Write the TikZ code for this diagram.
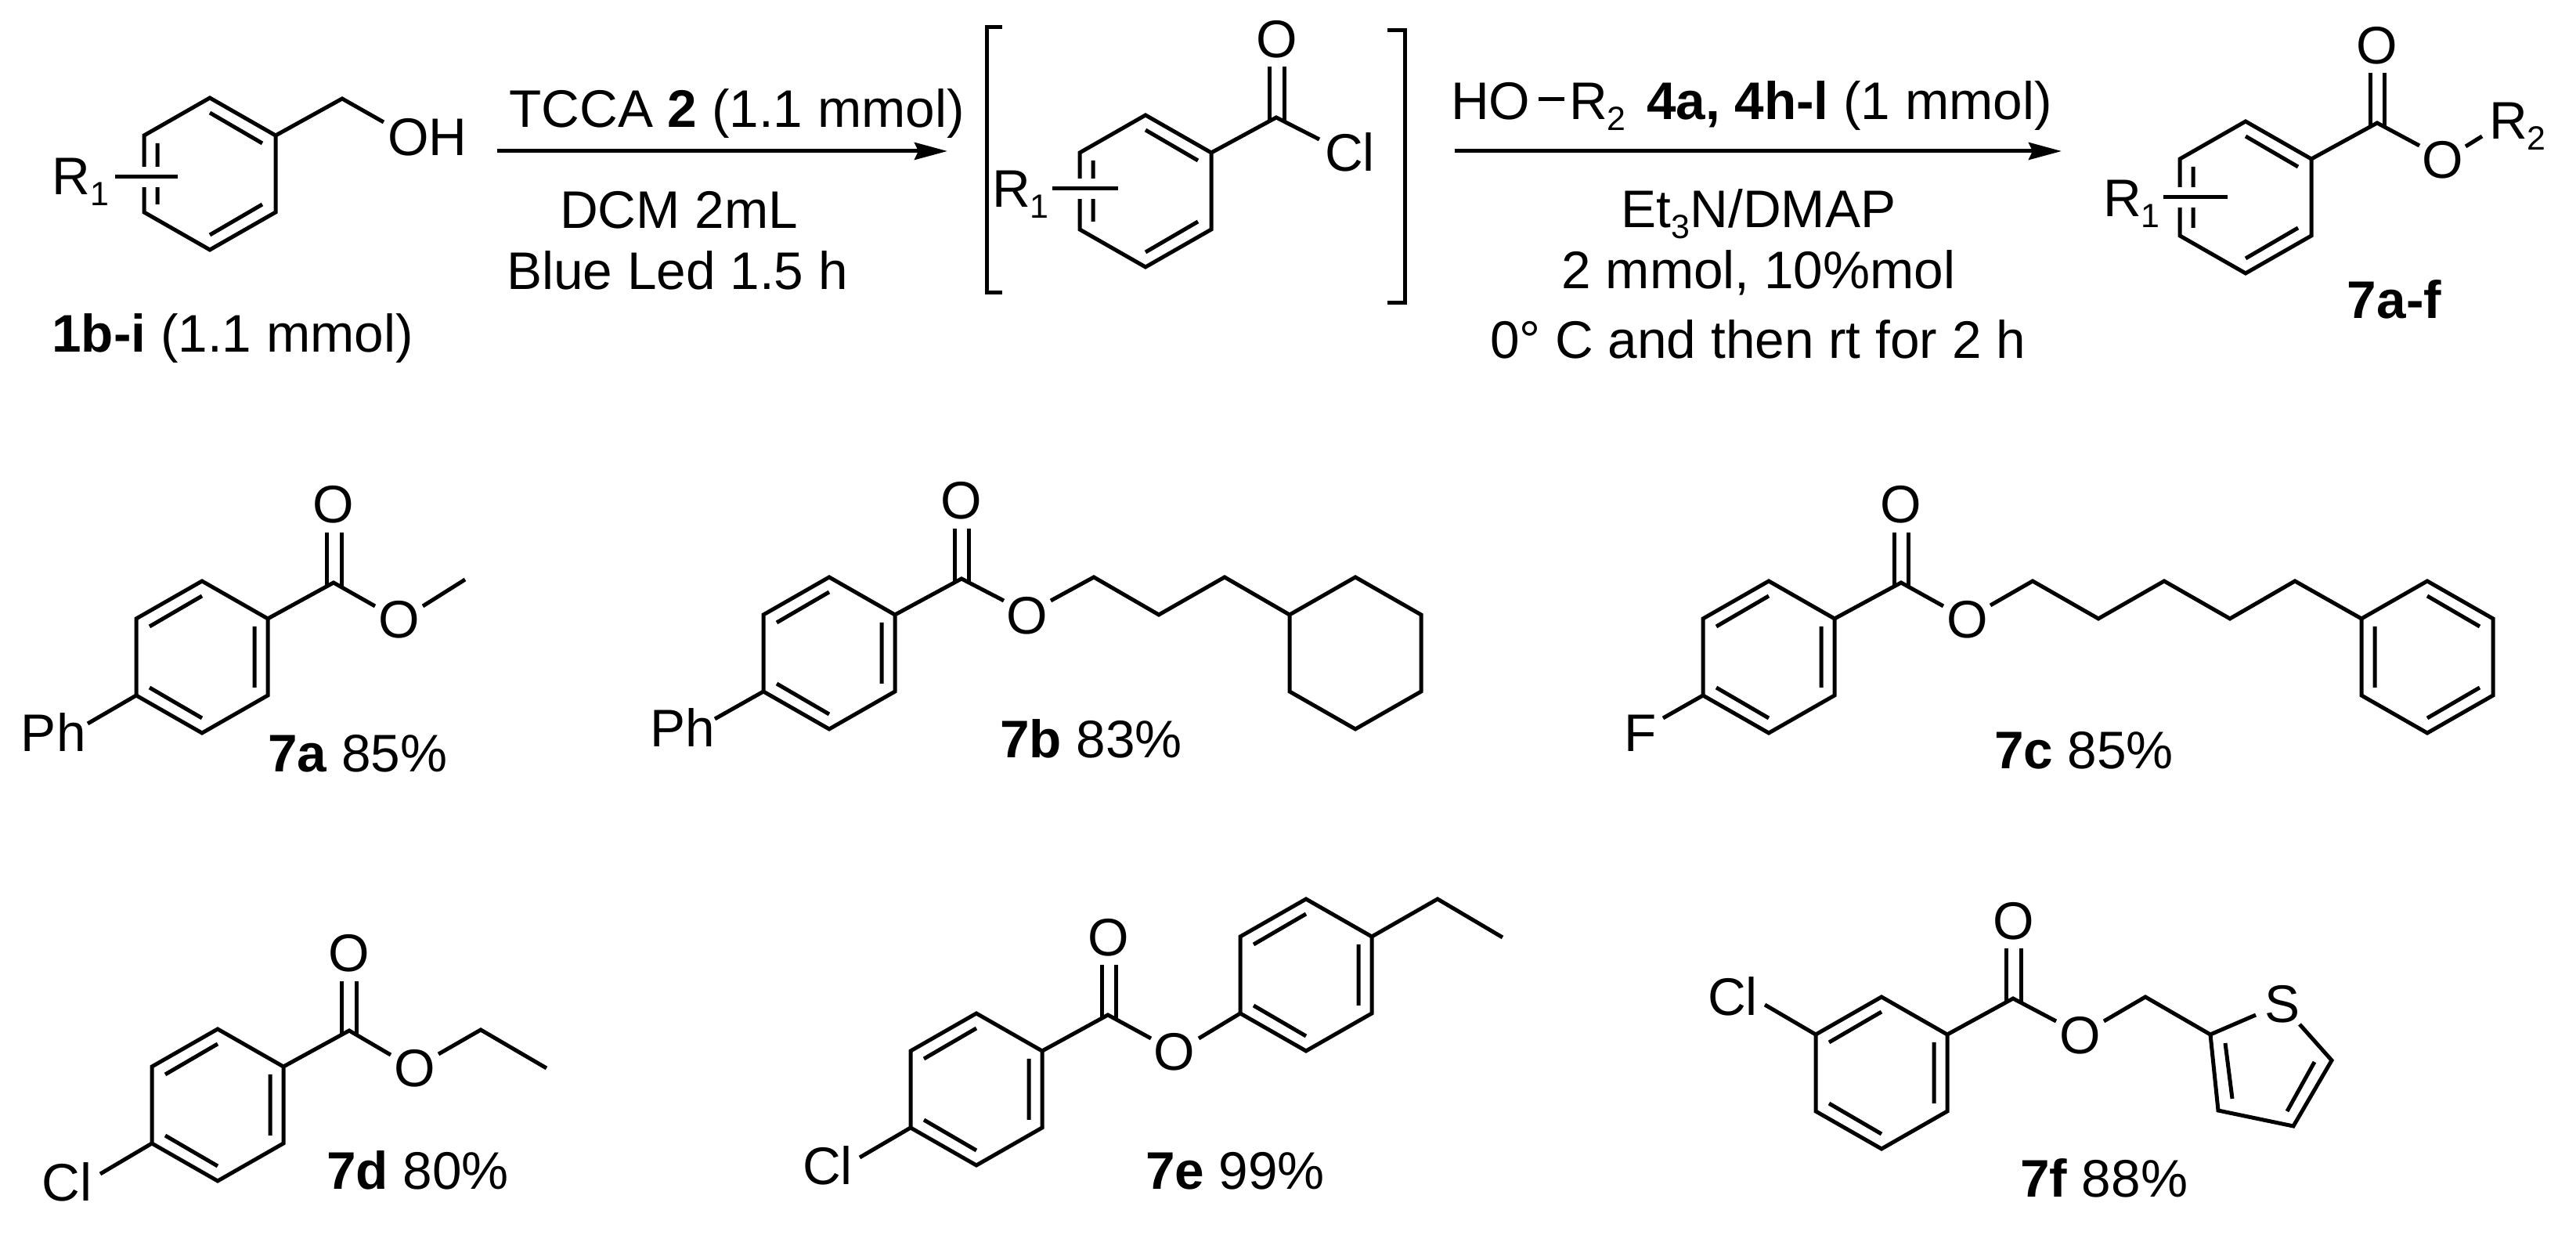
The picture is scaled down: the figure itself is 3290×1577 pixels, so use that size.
\documentclass[tikz,border=0pt]{standalone}
\usepackage{fontspec}
\setmainfont{Liberation Sans}
\usetikzlibrary{arrows.meta}
\newcommand{\dn}[1]{\raisebox{-0.14cm}{\fontsize{12.2}{14}\selectfont #1}}
\newcommand{\hexring}{%
   \coordinate (-t) at (0,-97);
   \coordinate (-ur) at (84,-49);
   \coordinate (-lr) at (84,49);
   \coordinate (-b) at (0,97);
   \coordinate (-ll) at (-84,49);
   \coordinate (-ul) at (-84,-49);
   \draw[bond] (-t) -- (-ur) -- (-lr) -- (-b) -- (-ll) -- (-ul) -- cycle;
}
\tikzset{
   bond/.style={line width=0.05cm, line join=miter},
   gapline/.style={white, line width=0.26cm},
   rxnarrow/.style={bond, -{Stealth[length=0.42cm, width=0.22cm, inset=0.05cm]}},
   lab/.style={inner sep=0, outer sep=0, anchor=base},
   labl/.style={inner sep=0, outer sep=0, anchor=base west},
   ringa/.pic={\hexring
      \draw[bond] (0,-78) -- (67,-39) (-67,-39) -- (-67,39) (67,39) -- (0,78);},
   ringb/.pic={\hexring
      \draw[bond] (-67,-39) -- (0,-78) (67,-39) -- (67,39) (-67,39) -- (0,78);},
   ringc/.pic={\hexring}
}
\begin{document}
\begin{tikzpicture}[x=0.01cm, y=-0.01cm, every node/.style={font=\fontsize{19.2}{23}\selectfont}]
   \useasboundingbox (0,0) rectangle (3290,1577);

   % Alcohol 1b-i
   \pic (sm) at (268,222) {ringa};
   \draw[bond] (sm-ur) -- (437,126) -- (490,156);
   \draw[gapline] (175,226) -- (220,226);
   \draw[bond] (147,226) -- (227,226);
   \node[labl] (smr) at (67,249) {R\dn{1}};
   \node[labl] (smoh) at (495,199) {OH};
   \node[lab] (smname) at (297,450) {\textbf{1b-i} (1.1 mmol)};

   % First arrow
   \coordinate (aones) at (635,193);
   \coordinate (aonee) at (1210,193);
   \draw[rxnarrow] (aones) -- (aonee);
   \node[lab] (aonet) at (941,163) {TCCA \textbf{2} (1.1 mmol)};
   \node[lab] (aoneb) at (867,292) {DCM 2mL};
   \node[lab] (aonec) at (865,370) {Blue Led 1.5 h};

   % Acid chloride in brackets
   \draw[bond] (1280,35) -- (1260,35) -- (1260,374) -- (1280,374);
   \draw[bond] (1772,39) -- (1794,39) -- (1794,387) -- (1772,387);
   \pic (ac) at (1463,244) {ringa};
   \draw[bond] (ac-ur) -- (1630,150) -- (1685,178);
   \draw[bond] (1621,85) -- (1621,155) (1640,85) -- (1640,155);
   \draw[gapline] (1369,241) -- (1415,241);
   \draw[bond] (1344,241) -- (1428,241);
   \node[labl] (acr) at (1267,265) {R\dn{1}};
   \node[lab] (aco) at (1631,74) {O};
   \node[labl] (accl) at (1692,219) {Cl};

   % Second arrow
   \coordinate (atwos) at (1858,193);
   \coordinate (atwoe) at (2633,193);
   \draw[rxnarrow] (atwos) -- (atwoe);
   \node[labl] (atwoho) at (1853,153) {HO};
   \draw[bond] (1965,127) -- (1998,127);
   \node[labl] (atwor) at (2004,153) {R\dn{2}};
   \node[labl] (atwot) at (2103,153) {\textbf{4a, 4h-l} (1 mmol)};
   \node[lab] (atwob) at (2246,291) {Et\dn{3}N/DMAP};
   \node[lab] (atwoc) at (2246,369) {2 mmol, 10\%mol};
   \node[lab] (atwod) at (2245,458) {0° C and then rt for 2 h};

   % Product 7a-f
   \pic (pr) at (2868,252) {ringa};
   \draw[bond] (pr-ur) -- (3036,157) -- (3090,186);
   \draw[bond] (3027,93) -- (3027,162) (3045,93) -- (3045,162);
   \draw[bond] (3149,187) -- (3170,174);
   \draw[gapline] (2774,252) -- (2820,252);
   \draw[bond] (2763,252) -- (2845,252);
   \node[labl] (prr) at (2686,277) {R\dn{1}};
   \node[lab] (pro) at (3036,82) {O};
   \node[lab] (proe) at (3120,228) {O};
   \node[labl] (prrt) at (3179,178) {R\dn{2}};
   \node[lab] (prname) at (3058,407) {\textbf{7a-f}};

   % 7a
   \pic (ca) at (258,839) {ringb};
   \draw[bond] (ca-ur) -- (426,744) -- (479,774);
   \draw[bond] (417,680) -- (417,749) (436,680) -- (436,749);
   \draw[bond] (540,774) -- (594,740);
   \draw[bond] (ca-ll) -- (112,924);
   \node[lab] (caco) at (426,668) {O};
   \node[lab] (caoe) at (510,815) {O};
   \node[labl] (caph) at (27,960) {Ph};
   \node[labl] (caname) at (342,986) {\textbf{7a} 85\%};

   % 7b
   \pic (cb) at (1059,834) {ringb};
   \draw[bond] (cb-ur) -- (1228,739) -- (1282,767);
   \draw[bond] (1219,675) -- (1219,744) (1237,675) -- (1237,744);
   \draw[bond] (1342,767) -- (1397,737) -- (1480,785) -- (1564,737) -- (1647,785);
   \draw[bond] (cb-ll) -- (913,918);
   \pic (cbx) at (1731,834) {ringc};
   \node[lab] (cbco) at (1228,663) {O};
   \node[lab] (cboe) at (1312,810) {O};
   \node[labl] (cbph) at (830,954) {Ph};
   \node[labl] (cbname) at (1277,968) {\textbf{7b} 83\%};

   % 7c
   \pic (cc) at (2259,839) {ringb};
   \draw[bond] (cc-ur) -- (2428,744) -- (2482,774);
   \draw[bond] (2419,680) -- (2419,749) (2437,680) -- (2437,749);
   \draw[bond] (2542,773) -- (2596,742) -- (2680,790) -- (2764,742) -- (2848,790) -- (2931,742) -- (3016,790);
   \draw[bond] (cc-ll) -- (2124,917);
   \pic (ccp) at (3100,839) {ringa};
   \node[lab] (ccco) at (2428,668) {O};
   \node[lab] (ccoe) at (2513,815) {O};
   \node[labl] (ccf) at (2074,960) {F};
   \node[labl] (ccname) at (2547,982) {\textbf{7c} 85\%};

   % 7d
   \pic (cd) at (278,1411) {ringb};
   \draw[bond] (cd-ur) -- (446,1316) -- (499,1347);
   \draw[bond] (436,1253) -- (436,1321) (455,1253) -- (455,1321);
   \draw[bond] (560,1346) -- (614,1315) -- (698,1364);
   \draw[bond] (cd-ll) -- (128,1499);
   \node[lab] (cdco) at (446,1241) {O};
   \node[lab] (cdoe) at (530,1388) {O};
   \node[labl] (cdcl) at (54,1534) {Cl};
   \node[labl] (cdname) at (417,1518) {\textbf{7d} 80\%};

   % 7e
   \pic (ce) at (1247,1391) {ringb};
   \draw[bond] (ce-ur) -- (1415,1296) -- (1470,1326);
   \draw[bond] (1407,1232) -- (1407,1301) (1425,1232) -- (1425,1301);
   \draw[bond] (ce-ll) -- (1098,1478);
   \pic (cep) at (1668,1245) {ringb};
   \draw[bond] (1531,1326) -- (cep-ll);
   \draw[bond] (cep-ur) -- (1836,1148) -- (1919,1197);
   \node[lab] (ceco) at (1416,1221) {O};
   \node[lab] (ceoe) at (1500,1367) {O};
   \node[labl] (cecl) at (1025,1513) {Cl};
   \node[labl] (cename) at (1463,1518) {\textbf{7e} 99\%};

   % 7f
   \pic (cf) at (2403,1370) {ringb};
   \draw[bond] (cf-ur) -- (2571,1275) -- (2626,1304);
   \draw[bond] (2562,1211) -- (2562,1280) (2581,1211) -- (2581,1280);
   \draw[bond] (2687,1304) -- (2740,1273) -- (2823,1321) -- (2881,1296);
   \draw[bond] (cf-ul) -- (2254,1283);
   % Thiophene
   \draw[bond] (2937,1308) -- (2978,1354) -- (2929,1438) -- (2833,1418) -- (2823,1321);
   \draw[bond] (2842,1332) -- (2851,1403) (2956,1356) -- (2921,1419);
   \node[lab] (cfco) at (2572,1200) {O};
   \node[lab] (cfoe) at (2657,1346) {O};
   \node[labl] (cfs) at (2892,1306) {S};
   \node[labl] (cfcl) at (2181,1297) {Cl};
   \node[labl] (cfname) at (2580,1528) {\textbf{7f} 88\%};
\end{tikzpicture}
\end{document}
